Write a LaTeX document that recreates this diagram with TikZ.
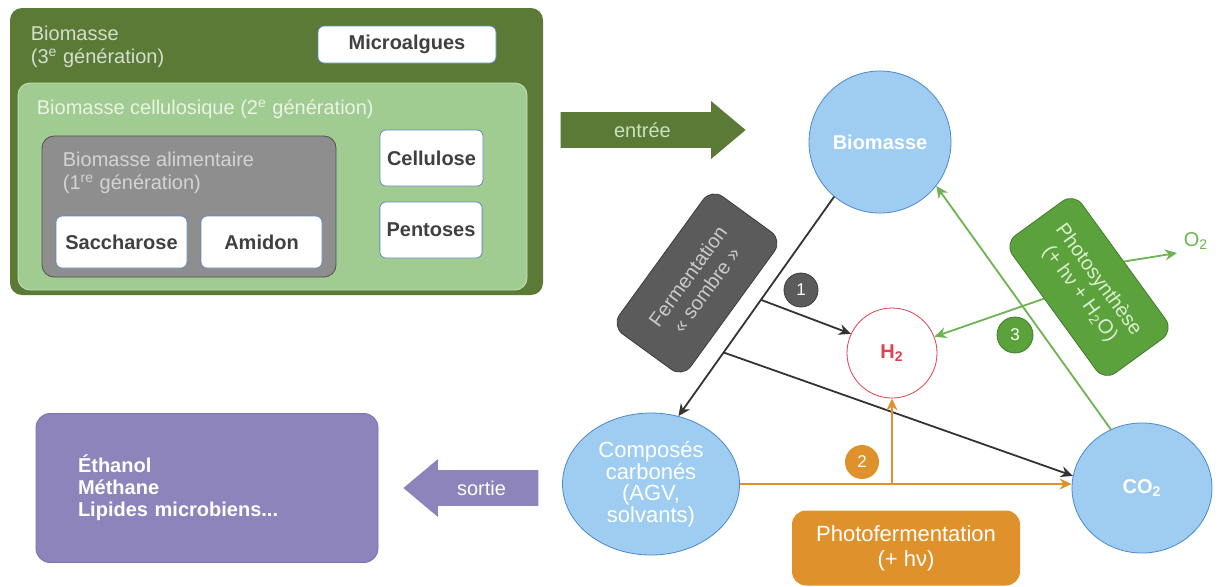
\documentclass[tikz,border=0pt]{standalone}
\usepackage{fontspec}
\setmainfont{Liberation Sans}
\usetikzlibrary{shapes.geometric}
\usetikzlibrary{shapes.arrows}
\usetikzlibrary{calc}
\usetikzlibrary{arrows.meta}
\definecolor{gthree}{HTML}{5A7A35}
\definecolor{gthreetext}{HTML}{D6DECF}
\definecolor{gtwo}{HTML}{A0CB91}
\definecolor{gtwoline}{HTML}{C8E3BC}
\definecolor{gtwotext}{HTML}{EAF4E4}
\definecolor{gone}{HTML}{8E8E8E}
\definecolor{goneline}{HTML}{4F4F4F}
\definecolor{gonetext}{HTML}{D4D4D4}
\definecolor{boxblue}{HTML}{5B8BC9}
\definecolor{poolfill}{HTML}{9ECDF1}
\definecolor{poolline}{HTML}{4A88CC}
\definecolor{fermgray}{HTML}{5B5B5B}
\definecolor{fermline}{HTML}{3C3C3C}
\definecolor{fermtext}{HTML}{CACACA}
\definecolor{photogreen}{HTML}{5CA23C}
\definecolor{photoline}{HTML}{3F7B2A}
\definecolor{phototext}{HTML}{DCEFD0}
\definecolor{synthgreen}{HTML}{6DB350}
\definecolor{pfermorange}{HTML}{DF922C}
\definecolor{purplebox}{HTML}{8C84BA}
\definecolor{purpleline}{HTML}{7A72A8}
\definecolor{hred}{HTML}{E0404F}
\definecolor{entreetext}{HTML}{CFE0C2}
\tikzset{
every picture/.style={line width=0.9pt, >={Stealth[length=6pt,width=5.5pt]}},
%%%%%%%%%%  Node styles
genbox/.style={rounded corners=6pt, inner sep=0pt, thin},
genlabel/.style={inner sep=0pt, align=left, font=\fontsize{10}{11.5}\selectfont},
sugar/.style={draw=boxblue, fill=white, thin, rounded corners=3pt,
              text=black!75, font=\bfseries\fontsize{10}{12}\selectfont},
pool/.style={ellipse, draw=poolline, fill=poolfill, thin, text=white,
             align=center, inner sep=0pt},
process/.style={rounded corners=7pt, align=center, thin,
                font=\fontsize{10}{11.5}\selectfont},
badge/.style={circle, minimum size=17pt, inner sep=0pt, thin, text=white,
              font=\fontsize{8.5}{10}\selectfont},
blockarrow/.style={single arrow, single arrow head extend=5.5pt,
                   single arrow tip angle=80, text height=7pt, text depth=0pt,
                   inner ysep=5pt, font=\fontsize{10}{12}\selectfont},
%%%% connector styles
fermflow/.style={draw=black!80, ->},
pfermflow/.style={draw=pfermorange, ->},
synthflow/.style={draw=synthgreen, ->}
}

\begin{document}
\begin{tikzpicture}[x=0.5pt, y=-0.5pt]
\useasboundingbox (0,0) rectangle (1231,586);
% biomass generations
\node[genbox, fill=gthree, minimum width=266.5pt, minimum height=143.5pt] (gen3) at (276.5,151.5) {};
\node[genlabel, anchor=north west, text=gthreetext] (gen3lbl) at (30,25) {Biomasse\\(3\textsuperscript{e} génération)};
\node[sugar, minimum width=89pt, minimum height=18.5pt] (algae) at (407,44.5) {Microalgues};
\node[genbox, fill=gtwo, draw=gtwoline, minimum width=254.5pt, minimum height=103.5pt] (gen2) at (272.5,186.5) {};
\node[genlabel, anchor=north west, text=gtwotext] (gen2lbl) at (36,99) {Biomasse cellulosique (2\textsuperscript{e} génération)};
\node[sugar, minimum width=51.5pt, minimum height=28pt] (cellu) at (431.5,158) {Cellulose};
\node[sugar, minimum width=48pt, minimum height=28pt] (pento) at (431,230) {Pentoses};
\node[genbox, fill=gone, draw=goneline, minimum width=147pt, minimum height=70.5pt] (gen1) at (189,206.5) {};
\node[genlabel, anchor=north west, text=gonetext] (gen1lbl) at (62,151) {Biomasse alimentaire\\(1\textsuperscript{re} génération)};
\node[sugar, minimum width=65.5pt, minimum height=26pt] (sacch) at (121.5,242) {Saccharose};
\node[sugar, minimum width=60.5pt, minimum height=26pt] (amidon) at (261.5,242) {Amidon};
% in and out
\node[blockarrow, fill=gthree, text=entreetext, minimum height=92.5pt, anchor=tip] (entree) at (747,130) {entrée};
\node[blockarrow, fill=purplebox, text=white, minimum height=67.5pt, shape border rotate=180, anchor=tip] (sortie) at (402,488) {sortie};
\node[process, fill=purplebox, draw=purpleline, minimum width=171pt, minimum height=74.5pt,
      text width=129pt, inner xsep=21pt, align=left, text=white,
      font=\bfseries\fontsize{10}{11}\selectfont] (prod) at (207,488) {Éthanol\\Méthane\\Lipides microbiens...};
% pools
\node[pool, circle, minimum size=71pt, font=\bfseries\fontsize{10}{12}\selectfont] (bio) at (880,142) {Biomasse};
\node[pool, minimum width=88.5pt, minimum height=71pt, font=\fontsize{11}{10.8}\selectfont] (comp) at (651,484) {Composés\\carbonés\\(AGV,\\solvants)};
\node[pool, minimum width=70pt, minimum height=65pt, font=\bfseries\fontsize{10}{12}\selectfont] (co2) at (1142,488) {CO\textsubscript{2}};
\node[circle, draw=hred, fill=white, thin, minimum size=45pt, inner sep=0pt, text=hred,
      font=\bfseries\fontsize{10}{12}\selectfont] (h2) at (892,353) {H\textsubscript{2}};
% processes
\node[process, fill=fermgray, draw=fermline, text=fermtext, minimum width=85pt, minimum height=44pt, rotate=54] (ferm) at (697,283) {Fermentation\\« sombre »};
\node[process, fill=photogreen, draw=photoline, text=phototext, minimum width=85pt, minimum height=43pt, rotate=-54] (photo) at (1089,287) {Photosynthèse\\(+ hν + H\textsubscript{2}O)};
\node[process, fill=pfermorange, text=white, minimum width=114pt, minimum height=37.5pt,
      font=\fontsize{11}{12.5}\selectfont] (pferm) at (906,548) {Photofermentation\\(+ hν)};
\node[text=synthgreen, inner sep=1pt, font=\fontsize{10}{12}\selectfont] (o2) at (1196,241) {O\textsubscript{2}};
% badges
\node[badge, fill=fermgray, draw=fermline] (b1) at (801,290) {1};
\node[badge, fill=pfermorange] (b2) at (862,462) {2};
\node[badge, fill=photogreen, draw=photoline, minimum size=18pt] (b3) at (1015,335) {3};
% dark fermentation
\draw[fermflow] (bio.230) -- (comp.68) coordinate[pos=0.47] (f1) coordinate[pos=0.71] (f2);
\draw[fermflow] (f1) -- (h2.155);
\draw[fermflow] (f2) -- (co2.170);
% photofermentation
\draw[pfermflow] (comp.east) -- (comp.east -| co2.west) coordinate[pos=0] (p0);
\draw[pfermflow] (h2.south |- comp.east) -- (h2.south);
% photosynthesis
\draw[synthflow] (co2.118) -- (bio.-38);
\draw[synthflow] ($(photo.south)!0.2!(photo.south west)$) -- (h2.21);
\draw[synthflow, shorten >=2pt] (photo.north) -- (o2.south west);
\end{tikzpicture}
\end{document}
